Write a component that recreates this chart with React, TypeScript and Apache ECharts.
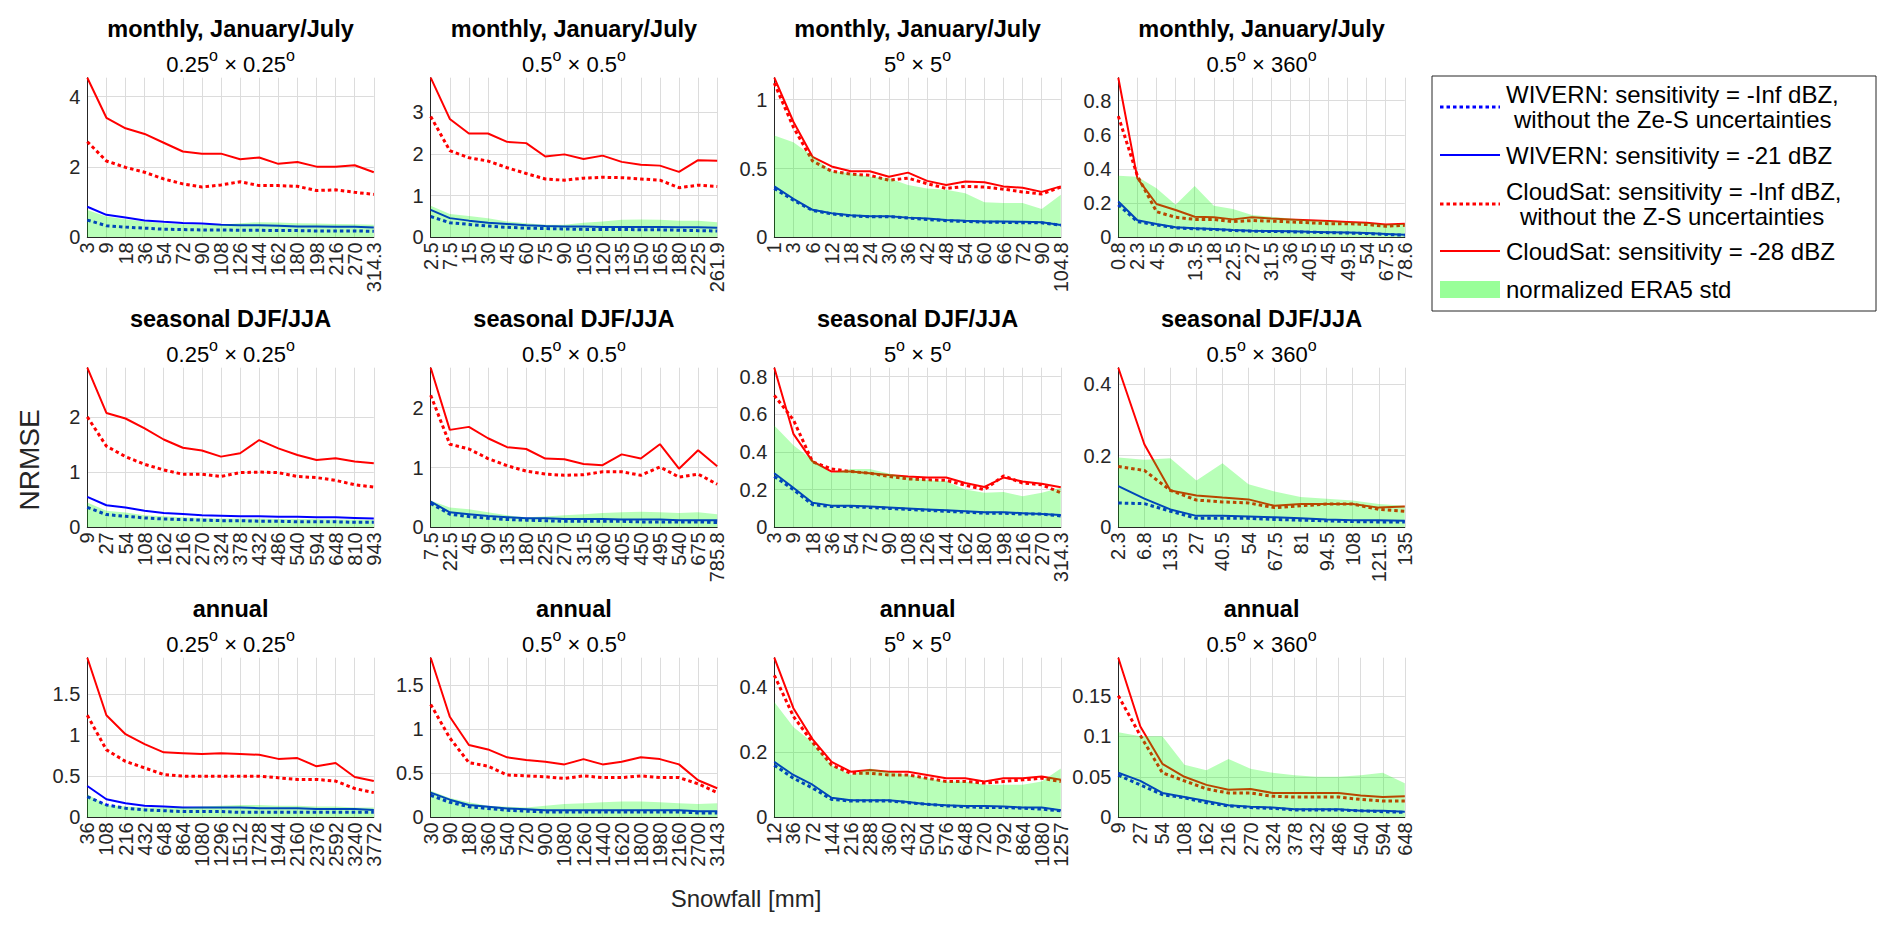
import React, { useEffect, useRef } from "react";
import * as echarts from "echarts";

// ---------------- data ----------------
// Panel 1: monthly, 0.25 x 0.25
const p1Cats = ["3", "9", "18", "36", "54", "72", "90", "108", "126", "144", "162", "180", "198", "216", "270", "314.3"];
const p1WivInf = [0.49, 0.33, 0.29, 0.26, 0.23, 0.22, 0.21, 0.21, 0.2, 0.2, 0.19, 0.19, 0.18, 0.18, 0.18, 0.17];
const p1Wiv21 = [0.87, 0.64, 0.56, 0.48, 0.44, 0.41, 0.39, 0.36, 0.34, 0.34, 0.33, 0.31, 0.31, 0.3, 0.3, 0.28];
const p1CsInf = [2.72, 2.17, 1.99, 1.85, 1.66, 1.52, 1.43, 1.49, 1.58, 1.47, 1.47, 1.45, 1.33, 1.35, 1.28, 1.22];
const p1Cs28 = [4.54, 3.4, 3.1, 2.94, 2.69, 2.44, 2.38, 2.38, 2.22, 2.27, 2.09, 2.14, 2.01, 2.01, 2.05, 1.85];
const p1Era5 = [0.78, 0.59, 0.51, 0.45, 0.4, 0.37, 0.36, 0.36, 0.4, 0.43, 0.42, 0.4, 0.39, 0.38, 0.37, 0.36];

// Panel 2: monthly, 0.5 x 0.5
const p2Cats = ["2.5", "7.5", "15", "30", "45", "60", "75", "90", "105", "120", "135", "150", "165", "180", "225", "261.9"];
const p2WivInf = [0.5, 0.35, 0.31, 0.27, 0.24, 0.22, 0.21, 0.2, 0.19, 0.19, 0.19, 0.18, 0.18, 0.17, 0.16, 0.15];
const p2Wiv21 = [0.66, 0.46, 0.4, 0.35, 0.32, 0.29, 0.27, 0.26, 0.26, 0.25, 0.25, 0.25, 0.25, 0.24, 0.24, 0.23];
const p2CsInf = [2.9, 2.08, 1.91, 1.83, 1.67, 1.53, 1.4, 1.37, 1.42, 1.44, 1.43, 1.4, 1.37, 1.19, 1.25, 1.22];
const p2Cs28 = [3.83, 2.84, 2.49, 2.49, 2.29, 2.26, 1.94, 1.99, 1.88, 1.96, 1.81, 1.74, 1.72, 1.57, 1.85, 1.84];
const p2Era5 = [0.76, 0.56, 0.51, 0.46, 0.38, 0.34, 0.3, 0.3, 0.35, 0.38, 0.42, 0.43, 0.42, 0.4, 0.4, 0.36];

// Panel 3: monthly, 5 x 5
const p3Cats = ["1", "3", "6", "12", "18", "24", "30", "36", "42", "48", "54", "60", "66", "72", "90", "104.8"];
const p3WivInf = [0.355, 0.27, 0.195, 0.17, 0.155, 0.15, 0.15, 0.14, 0.13, 0.12, 0.115, 0.11, 0.108, 0.106, 0.105, 0.088];
const p3Wiv21 = [0.37, 0.28, 0.2, 0.175, 0.16, 0.153, 0.153, 0.143, 0.136, 0.126, 0.12, 0.115, 0.115, 0.113, 0.11, 0.09];
const p3CsInf = [1.12, 0.8, 0.555, 0.48, 0.46, 0.45, 0.415, 0.43, 0.39, 0.355, 0.37, 0.365, 0.35, 0.33, 0.315, 0.365];
const p3Cs28 = [1.16, 0.84, 0.585, 0.515, 0.48, 0.48, 0.44, 0.47, 0.41, 0.38, 0.405, 0.4, 0.37, 0.36, 0.33, 0.37];
const p3Era5 = [0.74, 0.69, 0.59, 0.48, 0.465, 0.44, 0.43, 0.38, 0.355, 0.345, 0.32, 0.255, 0.25, 0.25, 0.205, 0.31];

// Panel 4: monthly, 0.5 x 360
const p4Cats = ["0.8", "2.3", "4.5", "9", "13.5", "18", "22.5", "27", "31.5", "36", "40.5", "45", "49.5", "54", "67.5", "78.6"];
const p4WivInf = [0.19, 0.092, 0.072, 0.055, 0.05, 0.046, 0.04, 0.036, 0.034, 0.032, 0.03, 0.027, 0.025, 0.022, 0.017, 0.012];
const p4Wiv21 = [0.21, 0.1, 0.078, 0.059, 0.053, 0.049, 0.043, 0.039, 0.037, 0.035, 0.032, 0.03, 0.028, 0.025, 0.02, 0.015];
const p4CsInf = [0.71, 0.36, 0.15, 0.117, 0.105, 0.105, 0.092, 0.098, 0.095, 0.09, 0.085, 0.08, 0.08, 0.075, 0.065, 0.07];
const p4Cs28 = [0.935, 0.345, 0.195, 0.16, 0.12, 0.117, 0.105, 0.117, 0.11, 0.105, 0.1, 0.095, 0.09, 0.085, 0.075, 0.08];
const p4Era5 = [0.36, 0.355, 0.287, 0.19, 0.3, 0.185, 0.166, 0.13, 0.12, 0.11, 0.1, 0.095, 0.09, 0.085, 0.075, 0.08];

// Panel 5: seasonal, 0.25 x 0.25
const p5Cats = ["9", "27", "54", "108", "162", "216", "270", "324", "378", "432", "486", "540", "594", "648", "810", "943"];
const p5WivInf = [0.36, 0.23, 0.2, 0.17, 0.15, 0.14, 0.13, 0.12, 0.12, 0.11, 0.11, 0.1, 0.1, 0.1, 0.09, 0.09];
const p5Wiv21 = [0.55, 0.4, 0.36, 0.3, 0.26, 0.24, 0.22, 0.21, 0.2, 0.2, 0.19, 0.19, 0.18, 0.18, 0.17, 0.16];
const p5CsInf = [2.0, 1.47, 1.28, 1.14, 1.04, 0.96, 0.96, 0.92, 0.99, 1.0, 0.99, 0.92, 0.9, 0.85, 0.77, 0.73];
const p5Cs28 = [2.89, 2.07, 1.97, 1.79, 1.59, 1.44, 1.39, 1.28, 1.34, 1.58, 1.43, 1.31, 1.22, 1.25, 1.19, 1.16];
const p5Era5 = [0.45, 0.3, 0.27, 0.22, 0.2, 0.18, 0.17, 0.16, 0.16, 0.16, 0.15, 0.15, 0.15, 0.14, 0.14, 0.13];

// Panel 6: seasonal, 0.5 x 0.5
const p6Cats = ["7.5", "22.5", "45", "90", "135", "180", "225", "270", "315", "360", "405", "450", "495", "540", "675", "785.8"];
const p6WivInf = [0.4, 0.22, 0.18, 0.15, 0.13, 0.12, 0.11, 0.1, 0.1, 0.1, 0.1, 0.09, 0.09, 0.09, 0.09, 0.08];
const p6Wiv21 = [0.43, 0.25, 0.22, 0.19, 0.17, 0.15, 0.15, 0.14, 0.14, 0.14, 0.13, 0.13, 0.13, 0.12, 0.12, 0.12];
const p6CsInf = [2.21, 1.39, 1.31, 1.15, 1.03, 0.94, 0.89, 0.87, 0.88, 0.93, 0.93, 0.87, 1.01, 0.84, 0.89, 0.72];
const p6Cs28 = [2.67, 1.63, 1.68, 1.49, 1.34, 1.31, 1.15, 1.14, 1.06, 1.04, 1.22, 1.15, 1.39, 0.98, 1.29, 1.02];
const p6Era5 = [0.45, 0.33, 0.3, 0.25, 0.2, 0.17, 0.18, 0.2, 0.22, 0.24, 0.25, 0.26, 0.25, 0.24, 0.25, 0.22];

// Panel 7: seasonal, 5 x 5
const p7Cats = ["3", "9", "18", "36", "54", "72", "90", "108", "126", "144", "162", "180", "198", "216", "270", "314.3"];
const p7WivInf = [0.27, 0.2, 0.12, 0.11, 0.11, 0.105, 0.1, 0.095, 0.09, 0.085, 0.08, 0.075, 0.075, 0.07, 0.07, 0.06];
const p7Wiv21 = [0.287, 0.21, 0.13, 0.115, 0.115, 0.11, 0.105, 0.1, 0.095, 0.09, 0.085, 0.08, 0.08, 0.075, 0.07, 0.065];
const p7CsInf = [0.7, 0.57, 0.348, 0.31, 0.296, 0.287, 0.27, 0.257, 0.252, 0.249, 0.223, 0.2, 0.273, 0.235, 0.226, 0.183];
const p7Cs28 = [0.847, 0.496, 0.35, 0.296, 0.296, 0.287, 0.278, 0.27, 0.264, 0.264, 0.235, 0.214, 0.264, 0.243, 0.231, 0.212];
const p7Era5 = [0.54, 0.435, 0.357, 0.287, 0.31, 0.31, 0.285, 0.265, 0.25, 0.245, 0.2, 0.183, 0.188, 0.165, 0.183, 0.21];

// Panel 8: seasonal, 0.5 x 360
const p8Cats = ["2.3", "6.8", "13.5", "27", "40.5", "54", "67.5", "81", "94.5", "108", "121.5", "135"];
const p8WivInf = [0.068, 0.066, 0.045, 0.025, 0.025, 0.025, 0.022, 0.02, 0.018, 0.016, 0.015, 0.015];
const p8Wiv21 = [0.115, 0.08, 0.05, 0.032, 0.032, 0.03, 0.028, 0.025, 0.022, 0.02, 0.02, 0.018];
const p8CsInf = [0.17, 0.159, 0.103, 0.076, 0.071, 0.068, 0.055, 0.06, 0.065, 0.065, 0.05, 0.045];
const p8Cs28 = [0.446, 0.232, 0.103, 0.089, 0.083, 0.078, 0.06, 0.065, 0.065, 0.065, 0.055, 0.058];
const p8Era5 = [0.195, 0.189, 0.193, 0.131, 0.179, 0.12, 0.1, 0.085, 0.08, 0.075, 0.065, 0.06];

// Panel 9: annual, 0.25 x 0.25
const p9Cats = ["36", "108", "216", "432", "648", "864", "1080", "1296", "1512", "1728", "1944", "2160", "2376", "2592", "3240", "3772"];
const p9WivInf = [0.25, 0.15, 0.11, 0.09, 0.08, 0.07, 0.07, 0.07, 0.06, 0.06, 0.06, 0.06, 0.06, 0.06, 0.06, 0.06];
const p9Wiv21 = [0.38, 0.22, 0.17, 0.14, 0.13, 0.12, 0.12, 0.12, 0.12, 0.11, 0.11, 0.11, 0.1, 0.1, 0.1, 0.09];
const p9CsInf = [1.24, 0.82, 0.68, 0.6, 0.52, 0.5, 0.5, 0.5, 0.5, 0.5, 0.48, 0.46, 0.46, 0.44, 0.35, 0.3];
const p9Cs28 = [1.94, 1.24, 1.01, 0.89, 0.79, 0.78, 0.77, 0.78, 0.77, 0.76, 0.71, 0.72, 0.62, 0.66, 0.49, 0.44];
const p9Era5 = [0.28, 0.15, 0.13, 0.12, 0.12, 0.12, 0.13, 0.14, 0.15, 0.15, 0.14, 0.14, 0.13, 0.13, 0.12, 0.12];

// Panel 10: annual, 0.5 x 0.5
const p10Cats = ["30", "90", "180", "360", "540", "720", "900", "1080", "1260", "1440", "1620", "1800", "1980", "2160", "2700", "3143"];
const p10WivInf = [0.25, 0.17, 0.12, 0.1, 0.08, 0.07, 0.06, 0.06, 0.06, 0.06, 0.06, 0.06, 0.06, 0.06, 0.05, 0.05];
const p10Wiv21 = [0.28, 0.2, 0.14, 0.12, 0.1, 0.09, 0.08, 0.08, 0.08, 0.08, 0.08, 0.08, 0.08, 0.08, 0.07, 0.07];
const p10CsInf = [1.28, 0.9, 0.62, 0.58, 0.48, 0.47, 0.46, 0.44, 0.47, 0.45, 0.45, 0.47, 0.45, 0.45, 0.38, 0.28];
const p10Cs28 = [1.81, 1.14, 0.82, 0.77, 0.68, 0.65, 0.63, 0.6, 0.66, 0.6, 0.63, 0.68, 0.66, 0.6, 0.42, 0.33];
const p10Era5 = [0.3, 0.22, 0.17, 0.13, 0.12, 0.11, 0.13, 0.15, 0.16, 0.17, 0.18, 0.18, 0.17, 0.16, 0.15, 0.16];

// Panel 11: annual, 5 x 5
const p11Cats = ["12", "36", "72", "144", "216", "288", "360", "432", "504", "576", "648", "720", "792", "864", "1080", "1257"];
const p11WivInf = [0.16, 0.12, 0.09, 0.055, 0.05, 0.05, 0.05, 0.045, 0.04, 0.035, 0.032, 0.03, 0.03, 0.028, 0.025, 0.02];
const p11Wiv21 = [0.17, 0.13, 0.1, 0.06, 0.052, 0.052, 0.052, 0.047, 0.04, 0.037, 0.035, 0.035, 0.033, 0.03, 0.03, 0.022];
const p11CsInf = [0.436, 0.31, 0.23, 0.16, 0.135, 0.135, 0.13, 0.13, 0.12, 0.11, 0.11, 0.105, 0.11, 0.115, 0.12, 0.11];
const p11Cs28 = [0.49, 0.335, 0.24, 0.17, 0.14, 0.145, 0.14, 0.14, 0.13, 0.12, 0.12, 0.11, 0.12, 0.12, 0.125, 0.115];
const p11Era5 = [0.354, 0.277, 0.23, 0.16, 0.13, 0.15, 0.14, 0.13, 0.12, 0.11, 0.11, 0.1, 0.1, 0.1, 0.11, 0.15];

// Panel 12: annual, 0.5 x 360
const p12Cats = ["9", "27", "54", "108", "162", "216", "270", "324", "378", "432", "486", "540", "594", "648"];
const p12WivInf = [0.052, 0.04, 0.028, 0.024, 0.018, 0.014, 0.012, 0.011, 0.009, 0.009, 0.009, 0.008, 0.007, 0.006];
const p12Wiv21 = [0.055, 0.045, 0.03, 0.025, 0.02, 0.015, 0.013, 0.012, 0.01, 0.01, 0.01, 0.008, 0.008, 0.007];
const p12CsInf = [0.15, 0.101, 0.055, 0.045, 0.035, 0.03, 0.03, 0.026, 0.025, 0.025, 0.025, 0.022, 0.02, 0.02];
const p12Cs28 = [0.197, 0.112, 0.066, 0.05, 0.04, 0.034, 0.035, 0.03, 0.03, 0.03, 0.03, 0.027, 0.025, 0.026];
const p12Era5 = [0.105, 0.1, 0.1, 0.065, 0.058, 0.072, 0.06, 0.055, 0.052, 0.05, 0.05, 0.052, 0.055, 0.042];

const rowTitles = ["monthly, January/July", "seasonal DJF/JJA", "annual"];
const colResolutions = [["0.25", "0.25"], ["0.5", "0.5"], ["5", "5"], ["0.5", "360"]];
const yTickSteps = [2, 1, 0.5, 0.2, 1, 1, 0.2, 0.2, 0.5, 0.5, 0.2, 0.05];
const seriesNames = [
  "WIVERN: sensitivity = -Inf dBZ, without the Ze-S uncertainties",
  "WIVERN: sensitivity = -21 dBZ",
  "CloudSat: sensitivity = -Inf dBZ, without the Z-S uncertainties",
  "CloudSat: sensitivity = -28 dBZ",
  "normalized ERA5 std",
];
const xLabel = "Snowfall [mm]";
const yLabel = "NRMSE";

const panels = [
  [p1Cats, p1WivInf, p1Wiv21, p1CsInf, p1Cs28, p1Era5],
  [p2Cats, p2WivInf, p2Wiv21, p2CsInf, p2Cs28, p2Era5],
  [p3Cats, p3WivInf, p3Wiv21, p3CsInf, p3Cs28, p3Era5],
  [p4Cats, p4WivInf, p4Wiv21, p4CsInf, p4Cs28, p4Era5],
  [p5Cats, p5WivInf, p5Wiv21, p5CsInf, p5Cs28, p5Era5],
  [p6Cats, p6WivInf, p6Wiv21, p6CsInf, p6Cs28, p6Era5],
  [p7Cats, p7WivInf, p7Wiv21, p7CsInf, p7Cs28, p7Era5],
  [p8Cats, p8WivInf, p8Wiv21, p8CsInf, p8Cs28, p8Era5],
  [p9Cats, p9WivInf, p9Wiv21, p9CsInf, p9Cs28, p9Era5],
  [p10Cats, p10WivInf, p10Wiv21, p10CsInf, p10Cs28, p10Era5],
  [p11Cats, p11WivInf, p11Wiv21, p11CsInf, p11Cs28, p11Era5],
  [p12Cats, p12WivInf, p12Wiv21, p12CsInf, p12Cs28, p12Era5],
] as const;

// ---------------- layout / styles ----------------
const FONT = '"Liberation Sans", Arial, Helvetica, sans-serif';
const GRID_LEFTS = [87.3, 430.7, 774.3, 1118.3];
const GRID_TOPS = [77.7, 367.7, 657.7];
const GRID_W = 286.5;
const GRID_H = 159.6;
const AXIS_COLOR = "#262626";
const GRID_COLOR = "#dcdcdc";
const BLUE = "#0000ff";
const RED = "#ff0000";
const GREEN_FILL = "rgba(0,255,0,0.4)";
const DOT = [3.5, 3];

export default function App() {
  const ref = useRef<HTMLDivElement>(null);

  useEffect(() => {
    if (!ref.current) return;
    const chart = echarts.init(ref.current, null, { renderer: "svg" });

    const grid: any[] = [];
    const xAxis: any[] = [];
    const yAxis: any[] = [];
    const series: any[] = [];
    const graphic: any[] = [];

    panels.forEach((p, i) => {
      const row = Math.floor(i / 4);
      const col = i % 4;
      const [cats, wivInf, wiv21, csInf, cs28, era5] = p as any;
      const left = GRID_LEFTS[col];
      const top = GRID_TOPS[row];
      grid.push({ left, top, width: GRID_W, height: GRID_H, containLabel: false });
      const dataMax = Math.max(...wivInf, ...wiv21, ...csInf, ...cs28, ...era5);
      xAxis.push({
        type: "category",
        gridIndex: i,
        data: cats,
        boundaryGap: false,
        axisLine: { show: true, onZero: false, lineStyle: { color: AXIS_COLOR, width: 1 } },
        axisTick: { show: false },
        axisLabel: {
          interval: 0,
          rotate: 90,
          fontSize: 20,
          fontFamily: FONT,
          color: AXIS_COLOR,
          margin: 5,
        },
        splitLine: { show: true, interval: 0, lineStyle: { color: GRID_COLOR, width: 1 } },
      });
      yAxis.push({
        type: "value",
        gridIndex: i,
        min: 0,
        max: dataMax,
        interval: yTickSteps[i],
        axisLine: { show: true, lineStyle: { color: AXIS_COLOR, width: 1 } },
        axisTick: { show: false },
        axisLabel: {
          fontSize: 20,
          fontFamily: FONT,
          color: AXIS_COLOR,
          margin: 7,
          showMaxLabel: false,
        },
        splitLine: { show: true, showMaxLine: false, lineStyle: { color: GRID_COLOR, width: 1 } },
      });
      const base = { type: "line", xAxisIndex: i, yAxisIndex: i, symbol: "none", showSymbol: false, silent: true };
      series.push({ ...base, name: seriesNames[0], data: wivInf, z: 2, lineStyle: { color: BLUE, width: 3, type: DOT } });
      series.push({ ...base, name: seriesNames[1], data: wiv21, z: 3, lineStyle: { color: BLUE, width: 2 } });
      series.push({ ...base, name: seriesNames[2], data: csInf, z: 4, lineStyle: { color: RED, width: 3, type: DOT } });
      series.push({ ...base, name: seriesNames[3], data: cs28, z: 5, lineStyle: { color: RED, width: 2 } });
      series.push({
        ...base,
        name: seriesNames[4],
        data: era5,
        z: 6,
        lineStyle: { width: 0, opacity: 0 },
        areaStyle: { color: GREEN_FILL, origin: "start" },
      });

      // titles
      const cx = left + GRID_W / 2;
      graphic.push({
        type: "text",
        x: cx,
        y: top - 49,
        style: {
          text: rowTitles[row],
          fontSize: 23.5,
          fontWeight: "bold",
          fontFamily: FONT,
          fill: "#000",
          align: "center",
          verticalAlign: "middle",
        },
      });
      const [a, b] = colResolutions[col];
      graphic.push({
        type: "text",
        x: cx,
        y: top - 16,
        style: {
          text: `{m|${a}}{s|o}{m| × ${b}}{s|o}`,
          fontSize: 22,
          fontFamily: FONT,
          fill: "#000",
          align: "center",
          verticalAlign: "middle",
          rich: {
            m: { fontSize: 22, fontFamily: FONT, fill: "#000", verticalAlign: "bottom", lineHeight: 28 },
            s: { fontSize: 16, fontFamily: FONT, fill: "#000", verticalAlign: "top", lineHeight: 28 },
          },
        },
      });
    });

    // axis labels
    graphic.push({
      type: "text",
      x: 29,
      y: 460,
      rotation: Math.PI / 2,
      style: { text: yLabel, fontSize: 28, fontFamily: FONT, fill: AXIS_COLOR, align: "center", verticalAlign: "middle" },
    });
    graphic.push({
      type: "text",
      x: 746,
      y: 898,
      style: { text: xLabel, fontSize: 24, fontFamily: FONT, fill: AXIS_COLOR, align: "center", verticalAlign: "middle" },
    });

    // legend
    const LX = 1432;
    const LY = 76;
    const LW = 444;
    const LH = 235;
    graphic.push({
      type: "rect",
      shape: { x: LX, y: LY, width: LW, height: LH },
      style: { fill: "#fff", stroke: AXIS_COLOR, lineWidth: 1 },
      z: 100,
    });
    const sx1 = LX + 8;
    const sx2 = LX + 68;
    const tx = LX + 74;
    const legendFont = { fontSize: 24, fontFamily: FONT, fill: "#000", align: "left", verticalAlign: "middle" } as any;
    const entries = [
      { y: 107, lines: ["WIVERN: sensitivity = -Inf dBZ,", "without the Ze-S uncertainties"], off: 8, color: BLUE, width: 3, dash: DOT },
      { y: 155, lines: ["WIVERN: sensitivity = -21 dBZ"], off: 0, color: BLUE, width: 2, dash: null },
      { y: 204, lines: ["CloudSat: sensitivity = -Inf dBZ,", "without the Z-S uncertainties"], off: 14, color: RED, width: 3, dash: DOT },
      { y: 251, lines: ["CloudSat: sensitivity = -28 dBZ"], off: 0, color: RED, width: 2, dash: null },
    ];
    entries.forEach((e) => {
      graphic.push({
        type: "line",
        shape: { x1: sx1, y1: e.y, x2: sx2, y2: e.y },
        style: { stroke: e.color, lineWidth: e.width, lineDash: e.dash || undefined },
        z: 101,
      });
      if (e.lines.length === 1) {
        graphic.push({ type: "text", x: tx, y: e.y, style: { ...legendFont, text: e.lines[0] }, z: 101 });
      } else {
        graphic.push({ type: "text", x: tx, y: e.y - 12.5, style: { ...legendFont, text: e.lines[0] }, z: 101 });
        graphic.push({ type: "text", x: tx + e.off, y: e.y + 12.5, style: { ...legendFont, text: e.lines[1] }, z: 101 });
      }
    });
    graphic.push({
      type: "rect",
      shape: { x: sx1, y: 281, width: sx2 - sx1, height: 17 },
      style: { fill: GREEN_FILL },
      z: 101,
    });
    graphic.push({ type: "text", x: tx, y: 289, style: { ...legendFont, text: seriesNames[4] }, z: 101 });

    chart.setOption({
      animation: false,
      backgroundColor: "#ffffff",
      grid,
      xAxis,
      yAxis,
      series,
      graphic,
    });

    return () => chart.dispose();
  }, []);

  return (
    <div
      ref={ref}
      style={{ position: "absolute", left: 0, top: 0, width: 1892, height: 929, background: "#fff" }}
    />
  );
}
